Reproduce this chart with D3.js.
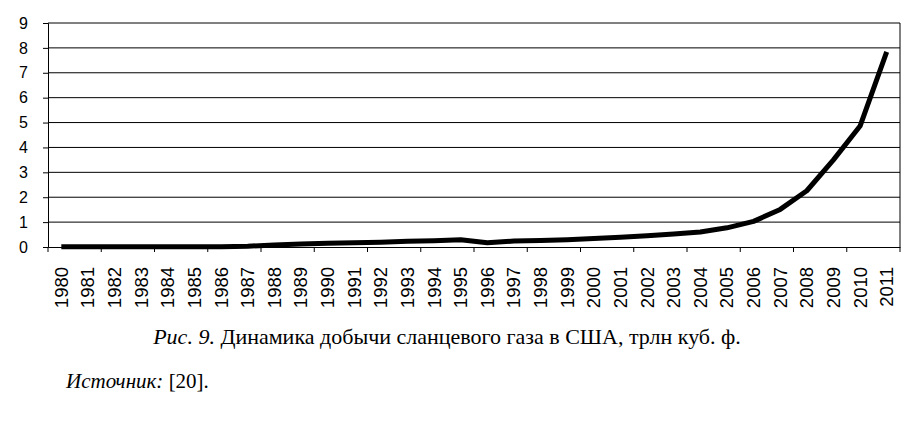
<!DOCTYPE html>
<html lang="ru">
<head>
<meta charset="UTF-8">
<title>Динамика добычи сланцевого газа в США</title>
<script src="https://d3js.org/d3.v7.min.js"></script>
<style>
    body { margin: 0; background: #fff; }
    .axis text { font-family: "Liberation Sans", Arial, sans-serif; font-size: 16px; fill: #000; }
    .axis .year { font-size: 18.5px; }
    .caption { font-family: "Liberation Serif", "Times New Roman", serif; font-size: 22px; fill: #000; }
    .source { font-size: 21px; }
</style>
</head>
<body>
<svg id="chart" width="924" height="422"></svg>
<script>
// years on the category axis
const years = d3.range(1980, 2012).map(String);
// shale gas production, trillion cubic feet
const production = [
    0.01, 0.01, 0.01, 0.01, 0.01, 0.01, 0.01, 0.03,
    0.08, 0.12, 0.15, 0.17, 0.19, 0.23, 0.25, 0.29,
    0.17, 0.24, 0.26, 0.29, 0.34, 0.39, 0.45, 0.52,
    0.60, 0.77, 1.03, 1.51, 2.26, 3.50, 4.86, 7.84
];
const yTicks = [0, 1, 2, 3, 4, 5, 6, 7, 8, 9];

const margin = { left: 48, right: 24, top: 23, bottom: 175 };
const width = 924, height = 422;

const svg = d3.select("#chart");

const x = d3.scaleBand().domain(years).range([margin.left, width - margin.right]);
const y = d3.scaleLinear().domain([0, 9]).range([height - margin.bottom, margin.top]);

// gridlines
svg.append("g")
    .selectAll("line")
    .data(yTicks.slice(1))
    .enter().append("line")
    .attr("x1", margin.left).attr("x2", width - margin.right)
    .attr("y1", d => y(d)).attr("y2", d => y(d))
    .attr("stroke", "#000").attr("stroke-width", 1);

// right frame
svg.append("line")
    .attr("x1", width - margin.right).attr("x2", width - margin.right)
    .attr("y1", y(9)).attr("y2", y(0))
    .attr("stroke", "#000");

// y axis
const yAxis = svg.append("g")
    .attr("class", "axis")
    .attr("transform", `translate(${margin.left},0)`)
    .call(d3.axisLeft(y).tickValues(yTicks).tickSize(5).tickPadding(15).tickFormat(d3.format("d")));
yAxis.selectAll("path, line").attr("stroke", "#000");

// x axis: ticks on every second category boundary
const xAxis = svg.append("g")
    .attr("class", "axis")
    .attr("transform", `translate(0,${y(0)})`)
    .call(d3.axisBottom(x).tickSize(0).tickSizeOuter(0));
xAxis.select(".domain").attr("stroke", "#000");
xAxis.selectAll(".tick text")
    .attr("class", "year")
    .attr("transform", "rotate(-90)")
    .attr("x", -20).attr("y", 0).attr("dy", "0.35em")
    .style("text-anchor", "end");

const bounds = years.filter((d, i) => i % 2 === 0).map(d => x(d)).concat([x.range()[1]]);
xAxis.selectAll(".bound")
    .data(bounds)
    .enter().append("line")
    .attr("class", "bound")
    .attr("x1", d => d).attr("x2", d => d)
    .attr("y1", 0).attr("y2", 5)
    .attr("stroke", "#000");

// series line
const line = d3.line()
    .x((d, i) => x(years[i]) + x.bandwidth() / 2)
    .y(d => y(d));

svg.append("path")
    .datum(production)
    .attr("d", line)
    .attr("fill", "none")
    .attr("stroke", "#000")
    .attr("stroke-width", 5)
    .attr("stroke-linejoin", "round");

// captions
const cap = svg.append("text")
    .attr("class", "caption")
    .attr("x", 447).attr("y", 344)
    .attr("text-anchor", "middle");
cap.append("tspan").style("font-style", "italic").text("Рис. 9.");
cap.append("tspan").text(" Динамика добычи сланцевого газа в США, трлн куб. ф.");

const src = svg.append("text")
    .attr("class", "caption source")
    .attr("x", 66).attr("y", 388);
src.append("tspan").style("font-style", "italic").text("Источник:");
src.append("tspan").text(" [20].");
</script>
</body>
</html>
